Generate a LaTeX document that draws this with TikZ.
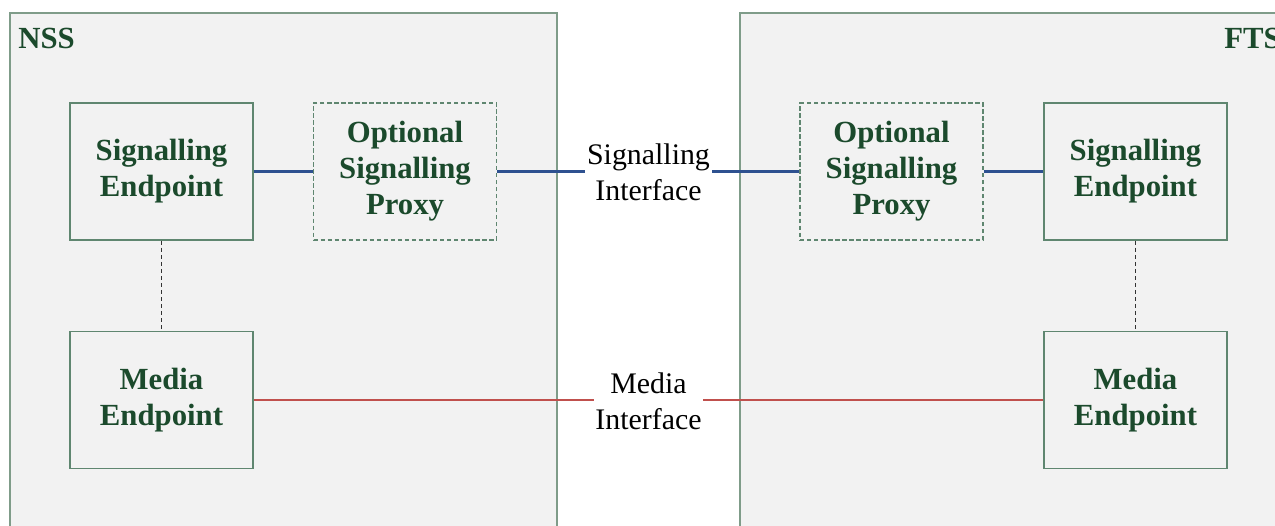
\documentclass[tikz,border=0pt]{standalone}
\usepackage{fontspec}
\setmainfont{Liberation Serif}
\definecolor{panelfill}{HTML}{F2F2F2}
\definecolor{panelline}{HTML}{7F9C89}
\definecolor{boxline}{HTML}{5F8670}
\definecolor{labelgreen}{HTML}{1B4A2C}
\definecolor{sigblue}{HTML}{2E5190}
\definecolor{mediared}{HTML}{C0504D}
\tikzset{
  panel/.style={draw=panelline, fill=panelfill, line width=0.9pt},
  func/.style={draw=boxline, line width=0.8pt, minimum width=3.66cm, minimum height=2.74cm,
    align=center, text=labelgreen, font=\bfseries\fontsize{17.5}{20.5}\selectfont, inner sep=0pt},
  optfunc/.style={func, dash pattern=on 2.5pt off 1.5pt},
  domlabel/.style={text=labelgreen, font=\bfseries\fontsize{17.5}{20.5}\selectfont, inner sep=0pt},
  iface/.style={fill=white, align=center, font=\fontsize{17}{20.5}\selectfont, inner sep=1pt},
  siglink/.style={draw=sigblue, line width=1.4pt},
  medlink/.style={draw=mediared, line width=1.5pt},
  assoc/.style={draw=black!80, line width=0.7pt, dash pattern=on 2.5pt off 1.5pt}
}
\begin{document}
\begin{tikzpicture}[x=0.02cm, y=-0.02cm]
    \useasboundingbox (0,0) rectangle (1275,525);
    % the two domains
    \draw[panel] (10,13) rectangle (557,545);
    \draw[panel] (740,13) rectangle (1295,545);
    \node[domlabel, anchor=base west] (nss) at (18,48) {NSS};
    \node[domlabel, anchor=base west] (fts) at (1224,48) {FTS};
    % NSS side
    \node[func] (nsssig) at (161.5,171.5) {Signalling\\Endpoint};
    \node[optfunc] (nssproxy) at (405,171.5) {Optional\\Signalling\\Proxy};
    \node[func] (nssmedia) at (161.5,400) {Media\\Endpoint};
    % FTS side
    \node[optfunc] (ftsproxy) at (891.5,171.5) {Optional\\Signalling\\Proxy};
    \node[func] (ftssig) at (1135.5,171.5) {Signalling\\Endpoint};
    \node[func] (ftsmedia) at (1135.5,400) {Media\\Endpoint};
    % links
    \draw[siglink] (nsssig) -- (nssproxy);
    \draw[siglink] (nssproxy) -- (ftsproxy);
    \draw[siglink] (ftsproxy) -- (ftssig);
    \draw[medlink] (nssmedia) -- (ftsmedia);
    \draw[assoc] (nsssig) -- (nssmedia);
    \draw[assoc] (ftssig) -- (ftsmedia);
    \node[iface] (sigif) at (648.5,172) {Signalling\\Interface};
    \node[iface] (medif) at (648.5,401) {Media\\Interface};
\end{tikzpicture}
\end{document}
